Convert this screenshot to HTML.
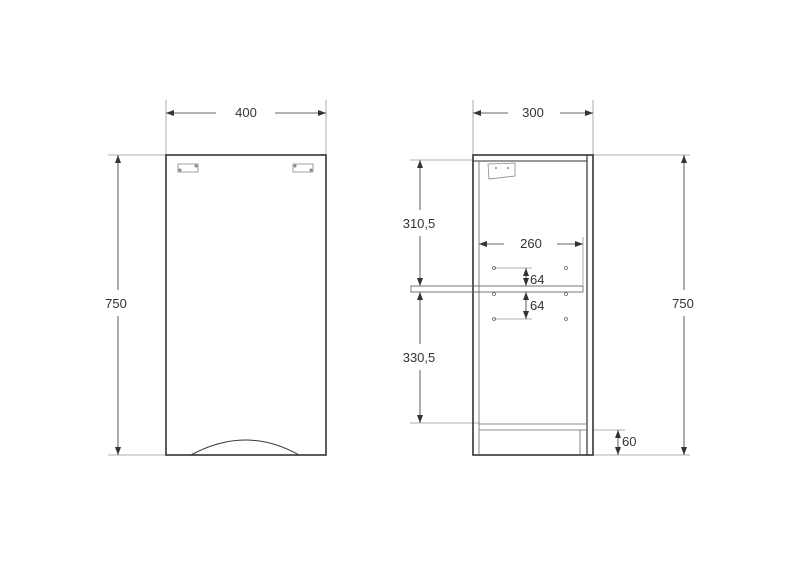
<!DOCTYPE html>
<html><head><style>body{margin:0;background:#fff}svg text{font-family:"Liberation Sans",sans-serif;fill:#333;font-size:13px}</style></head><body>
<svg width="800" height="560" viewBox="0 0 800 560" xmlns="http://www.w3.org/2000/svg">
<defs><marker id="a" markerWidth="8" markerHeight="6" refX="8" refY="3" orient="auto-start-reverse" markerUnits="userSpaceOnUse"><path d="M0,0L8,3L0,6z" fill="#333"/></marker></defs>
<g stroke="#999" stroke-width="0.8" fill="none">
<line x1="166" y1="100" x2="166" y2="155"/><line x1="326" y1="100" x2="326" y2="155"/>
<line x1="473" y1="100" x2="473" y2="155"/><line x1="593" y1="100" x2="593" y2="155"/>
<line x1="108" y1="155" x2="166" y2="155"/><line x1="108" y1="455" x2="166" y2="455"/>
<line x1="593" y1="155" x2="690" y2="155"/><line x1="593" y1="455" x2="690" y2="455"/>
<line x1="410" y1="160" x2="473" y2="160"/><line x1="410" y1="286" x2="583" y2="286"/><line x1="410" y1="292" x2="583" y2="292"/>
<line x1="410" y1="423" x2="479" y2="423"/><line x1="593" y1="430" x2="625" y2="430"/>
<line x1="583" y1="237" x2="583" y2="286"/>
<line x1="494" y1="268" x2="532" y2="268"/><line x1="494" y1="319" x2="532" y2="319"/>
</g>
<g stroke="#333" stroke-width="0.8" fill="none">
<line x1="166" y1="113" x2="216" y2="113" marker-start="url(#a)"/><line x1="275" y1="113" x2="326" y2="113" marker-end="url(#a)"/>
<line x1="473" y1="113" x2="508" y2="113" marker-start="url(#a)"/><line x1="560" y1="113" x2="593" y2="113" marker-end="url(#a)"/>
<line x1="118" y1="155" x2="118" y2="290" marker-start="url(#a)"/><line x1="118" y1="316" x2="118" y2="455" marker-end="url(#a)"/>
<line x1="684" y1="155" x2="684" y2="290" marker-start="url(#a)"/><line x1="684" y1="316" x2="684" y2="455" marker-end="url(#a)"/>
<line x1="420" y1="160" x2="420" y2="210" marker-start="url(#a)"/><line x1="420" y1="236" x2="420" y2="286" marker-end="url(#a)"/>
<line x1="420" y1="292" x2="420" y2="344" marker-start="url(#a)"/><line x1="420" y1="370" x2="420" y2="423" marker-end="url(#a)"/>
<line x1="618" y1="430" x2="618" y2="455" marker-start="url(#a)" marker-end="url(#a)"/>
<line x1="479" y1="244" x2="504" y2="244" marker-start="url(#a)"/><line x1="557" y1="244" x2="583" y2="244" marker-end="url(#a)"/>
<line x1="526" y1="268" x2="526" y2="286" marker-start="url(#a)" marker-end="url(#a)"/>
<line x1="526" y1="292" x2="526" y2="319" marker-start="url(#a)" marker-end="url(#a)"/>
</g>
<g stroke="#333" fill="none">
<rect x="166" y="155" width="160" height="300" stroke-width="1.6"/>
<path d="M191,455 Q246,425 299,455" stroke-width="1"/>
<rect x="178" y="164" width="20" height="8" stroke="#888" stroke-width="0.8"/>
<rect x="293" y="164" width="20" height="8" stroke="#888" stroke-width="0.8"/>
<rect x="473" y="155" width="120" height="300" stroke-width="1.6"/>
<line x1="473" y1="161" x2="587" y2="161" stroke-width="1"/>
<line x1="479" y1="161" x2="479" y2="455" stroke-width="0.8" stroke="#666"/>
<line x1="587" y1="155" x2="587" y2="455" stroke-width="1.2"/>
<rect x="411" y="286" width="172" height="6" stroke="#666" stroke-width="0.8"/>
<line x1="479" y1="424" x2="587" y2="424" stroke="#666" stroke-width="0.8"/>
<line x1="479" y1="430" x2="587" y2="430" stroke="#666" stroke-width="0.8"/>
<line x1="580" y1="430" x2="580" y2="455" stroke="#666" stroke-width="0.8"/>
<path d="M488,164 L515,163 L515,176 L489,179 z" stroke="#888" stroke-width="0.8"/>
<g stroke="#666" stroke-width="0.8"><circle cx="494" cy="268" r="1.5"/><circle cx="566" cy="268" r="1.5"/><circle cx="494" cy="294" r="1.5"/><circle cx="566" cy="294" r="1.5"/><circle cx="494" cy="319" r="1.5"/><circle cx="566" cy="319" r="1.5"/></g>
</g>
<g fill="#888"><circle cx="180" cy="170" r="1.5"/><circle cx="196" cy="166" r="1.5"/><circle cx="295" cy="166" r="1.5"/><circle cx="311" cy="170" r="1.5"/><circle cx="496" cy="168" r="1"/><circle cx="508" cy="168" r="1"/></g>
<text x="246" y="117" text-anchor="middle">400</text>
<text x="533" y="117" text-anchor="middle">300</text>
<text x="116" y="308" text-anchor="middle">750</text>
<text x="683" y="308" text-anchor="middle">750</text>
<text x="419" y="228" text-anchor="middle">310,5</text>
<text x="419" y="362" text-anchor="middle">330,5</text>
<text x="531" y="248" text-anchor="middle">260</text>
<text x="530" y="284">64</text>
<text x="530" y="310">64</text>
<text x="622" y="446">60</text>
</svg>
</body></html>
